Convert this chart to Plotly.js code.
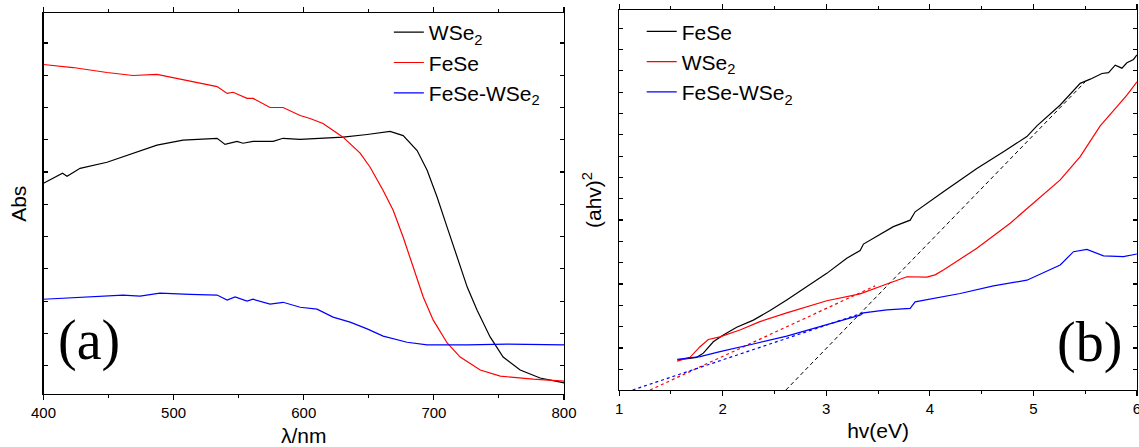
<!DOCTYPE html>
<html>
<head>
<meta charset="utf-8">
<script src="https://cdn.plot.ly/plotly-3.0.1.min.js"></script>
<style>html,body{margin:0;padding:0;background:#fff}#chart{width:1139px;height:447px}</style>
</head>
<body>
<div id="chart"></div>
<script>
// ---------- Panel (a): absorbance vs wavelength ----------
const a_FeSe_x = [400,422.7,448.8,468.8,487.2,512.6,533.4,541.1,545.7,556.4,561.0,574.1,584.1,597.2,604.8,614.8,630.2,643.3,651.0,661.0,668.7,676.4,684.1,691.8,699.5,710.2,720.2,735.6,751.0,776.3,800];
const a_FeSe_y = [0.866,0.858,0.845,0.837,0.840,0.823,0.808,0.790,0.793,0.777,0.777,0.753,0.753,0.732,0.724,0.711,0.675,0.633,0.596,0.535,0.483,0.412,0.333,0.255,0.194,0.134,0.097,0.063,0.047,0.039,0.034];

const a_WSe2_x = [400,414.6,418.1,428.1,448.8,468.8,487.2,507.2,533.4,539.5,548.7,553.3,561.0,576.4,584.1,597.2,630.2,648.7,666.3,676.4,687.1,694.8,702.5,710.2,717.9,725.6,733.2,743.2,753.2,766.3,781.6,800];
const a_WSe2_y = [0.554,0.580,0.572,0.593,0.609,0.633,0.654,0.667,0.672,0.656,0.664,0.659,0.664,0.664,0.672,0.669,0.675,0.682,0.690,0.679,0.640,0.588,0.517,0.438,0.360,0.281,0.220,0.150,0.097,0.063,0.042,0.029];

const a_Comp_x = [400,430.4,461.1,474.2,489.5,512.6,533.4,541.1,547.2,556.4,561.0,574.1,584.1,597.2,610.2,622.5,635.6,648.7,661.0,679.4,694.8,725.6,756.3,800];
const a_Comp_y = [0.249,0.255,0.260,0.257,0.265,0.262,0.260,0.247,0.255,0.244,0.249,0.236,0.241,0.228,0.223,0.202,0.189,0.171,0.152,0.136,0.129,0.129,0.131,0.129];

// ---------- Panel (b): Tauc plot ----------
const b_FeSe_x = [1.561,1.749,1.813,1.909,2.006,2.135,2.296,2.457,2.618,2.812,3.005,3.198,3.327,3.359,3.648,3.810,3.858,4.131,4.454,4.711,4.937,5.034,5.259,5.452,5.549,5.662,5.726,5.790,5.855,5.903,5.967,6.0];
const b_FeSe_y = [0.079,0.086,0.097,0.127,0.145,0.165,0.184,0.209,0.237,0.272,0.307,0.347,0.367,0.384,0.430,0.447,0.469,0.522,0.583,0.627,0.667,0.695,0.750,0.807,0.818,0.833,0.835,0.855,0.847,0.861,0.870,0.882];

const b_WSe2_x = [1.561,1.684,1.781,1.861,1.973,2.166,2.359,2.618,3.005,3.327,3.585,3.778,3.971,4.051,4.131,4.454,4.776,5.034,5.259,5.452,5.645,5.807,5.903,6.0];
const b_WSe2_y = [0.076,0.086,0.114,0.133,0.140,0.158,0.180,0.203,0.235,0.253,0.279,0.298,0.297,0.303,0.316,0.373,0.439,0.500,0.553,0.614,0.695,0.746,0.776,0.811];

const b_Comp_x = [1.561,1.781,1.974,2.135,2.296,2.618,2.940,3.327,3.359,3.585,3.810,3.858,4.293,4.614,4.937,5.259,5.387,5.517,5.677,5.870,6.0];
const b_Comp_y = [0.081,0.088,0.101,0.112,0.121,0.142,0.167,0.197,0.203,0.211,0.215,0.232,0.254,0.274,0.289,0.329,0.364,0.370,0.353,0.351,0.358];

// Linear extrapolations (tangent lines)
const fit_FeSe_x = [2.61, 5.50];
const fit_FeSe_y = [0.0, 0.811];
const fit_WSe2_x = [1.298, 3.471];
const fit_WSe2_y = [0.0, 0.274];
const fit_Comp_x = [1.13, 3.375];
const fit_Comp_y = [0.0, 0.205];

const FONT = '"Liberation Sans", Arial, sans-serif';
const SERIF = '"Liberation Serif", "Times New Roman", serif';
const LW = 1.2;

const traces = [
  {x:a_WSe2_x, y:a_WSe2_y, name:'WSe<sub>2</sub>', mode:'lines', line:{color:'#000000', width:LW}, xaxis:'x', yaxis:'y', legend:'legend', legendgroup:'a1'},
  {x:a_FeSe_x, y:a_FeSe_y, name:'FeSe', mode:'lines', line:{color:'#ff0000', width:LW}, xaxis:'x', yaxis:'y', legend:'legend', legendgroup:'a2'},
  {x:a_Comp_x, y:a_Comp_y, name:'FeSe-WSe<sub>2</sub>', mode:'lines', line:{color:'#0000ff', width:LW}, xaxis:'x', yaxis:'y', legend:'legend', legendgroup:'a3'},

  {x:fit_FeSe_x, y:fit_FeSe_y, mode:'lines', line:{color:'#000000', width:1, dash:'4px,3px'}, xaxis:'x2', yaxis:'y2', showlegend:false},
  {x:fit_WSe2_x, y:fit_WSe2_y, mode:'lines', line:{color:'#ff0000', width:1.2, dash:'3px,3px'}, xaxis:'x2', yaxis:'y2', showlegend:false},
  {x:fit_Comp_x, y:fit_Comp_y, mode:'lines', line:{color:'#0000ff', width:1.2, dash:'3px,3px'}, xaxis:'x2', yaxis:'y2', showlegend:false},

  {x:b_FeSe_x, y:b_FeSe_y, name:'FeSe', mode:'lines', line:{color:'#000000', width:LW}, xaxis:'x2', yaxis:'y2', legend:'legend2', legendgroup:'b1'},
  {x:b_WSe2_x, y:b_WSe2_y, name:'WSe<sub>2</sub>', mode:'lines', line:{color:'#ff0000', width:LW}, xaxis:'x2', yaxis:'y2', legend:'legend2', legendgroup:'b2'},
  {x:b_Comp_x, y:b_Comp_y, name:'FeSe-WSe<sub>2</sub>', mode:'lines', line:{color:'#0000ff', width:LW}, xaxis:'x2', yaxis:'y2', legend:'legend2', legendgroup:'b3'}
];

const axBase = {
  showgrid:false, zeroline:false, showline:true, linecolor:'#000', linewidth:1.3,
  mirror:'allticks', tickcolor:'#000', tickwidth:1.2, ticklabeloverflow:'allow',
  tickfont:{family:FONT, size:15, color:'#000'}
};

const layout = {
  width:1139, height:447,
  margin:{l:0, r:0, t:0, b:0},
  paper_bgcolor:'#fff', plot_bgcolor:'#fff',
  font:{family:FONT, color:'#000'},
  xaxis: Object.assign({}, axBase, {
    domain:[0.0382, 0.4952], range:[400,800], tick0:400, dtick:100,
    ticks:'outside', ticklen:5,
    minor:{dtick:50, ticks:'outside', ticklen:3, tickcolor:'#000', tickwidth:1},
    title:{text:'λ/nm', font:{family:FONT, size:21, color:'#000'}, standoff:8},
    anchor:'y'
  }),
  yaxis: Object.assign({}, axBase, {
    domain:[0.1186, 0.9698], range:[0,1],
    tick0:0.0745, dtick:0.0848, ticks:'inside', ticklen:4, showticklabels:false,
    title:{text:'Abs', font:{family:FONT, size:21, color:'#000'}, standoff:10},
    anchor:'x'
  }),
  xaxis2: Object.assign({}, axBase, {
    domain:[0.5436, 0.9982], range:[1,6], tick0:1, dtick:1,
    ticks:'outside', ticklen:5,
    minor:{dtick:0.5, ticks:'outside', ticklen:3, tickcolor:'#000', tickwidth:1},
    title:{text:'hv(eV)', font:{family:FONT, size:21, color:'#000'}, standoff:7},
    anchor:'y2'
  }),
  yaxis2: Object.assign({}, axBase, {
    domain:[0.1275, 0.9776], range:[0,1],
    tick0:0.0545, dtick:0.0561, ticks:'inside', ticklen:4, showticklabels:false,
    title:{text:'(ahv)<sup>2</sup>', font:{family:FONT, size:21, color:'#000'}, standoff:10},
    anchor:'x2'
  }),
  legend:{
    x:0.3414, y:0.973, xanchor:'left', yanchor:'top',
    bgcolor:'rgba(0,0,0,0)', borderwidth:0,
    font:{family:FONT, size:21, color:'#000'},
    tracegroupgap:12, traceorder:'normal'
  },
  legend2:{
    x:0.5634, y:0.975, xanchor:'left', yanchor:'top',
    bgcolor:'rgba(0,0,0,0)', borderwidth:0,
    font:{family:FONT, size:21, color:'#000'},
    tracegroupgap:7, traceorder:'normal'
  },
  annotations:[
    {text:'(a)', xref:'paper', yref:'paper', x:89/1139, y:1-340/447, xanchor:'center', yanchor:'middle', showarrow:false, font:{family:SERIF, size:56, color:'#000'}},
    {text:'(b)', xref:'paper', yref:'paper', x:1089/1139, y:1-342/447, xanchor:'center', yanchor:'middle', showarrow:false, font:{family:SERIF, size:56, color:'#000'}}
  ],
  showlegend:true
};

Plotly.newPlot('chart', traces, layout, {staticPlot:true, displayModeBar:false});
</script>
</body>
</html>
